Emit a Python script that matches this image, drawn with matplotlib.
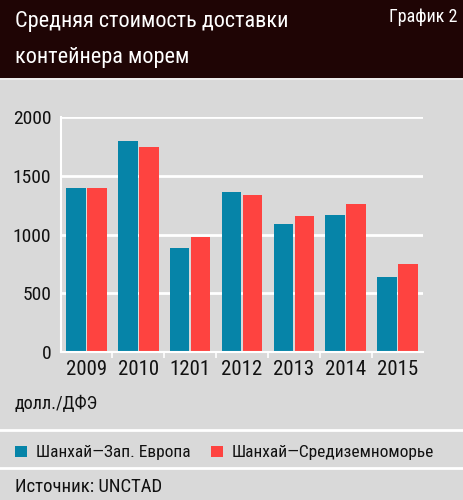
import numpy as np
import matplotlib.pyplot as plt
from matplotlib.patches import Rectangle

# Data
years = ["2009", "2010", "1201", "2012", "2013", "2014", "2015"]
west_europe = [1400, 1800, 885, 1360, 1090, 1165, 640]
mediterranean = [1400, 1745, 980, 1340, 1155, 1260, 745]
series_names = ["Шанхай—Зап. Европа", "Шанхай—Средиземноморье"]

BLUE = "#0684a8"
RED = "#fe4340"
BG = "#d9d9d9"
HEAD = "#1f0505"
INK = "#111111"

plt.rcParams["font.family"] = ["Roboto Condensed", "DejaVu Sans"]

fig = plt.figure(figsize=(4.64, 5.0), dpi=100)
fig.patch.set_facecolor(BG)

# Header band
fig.patches.append(Rectangle((0, 0.844), 1, 0.156, transform=fig.transFigure,
                             facecolor=HEAD, edgecolor="none"))
fig.add_artist(plt.Line2D([0, 1], [0.843, 0.843], color="#f0f0f0", lw=1.2))
fig.text(0.032, 0.946, "Средняя стоимость доставки", color="white",
         fontsize=16, va="baseline")
fig.text(0.032, 0.874, "контейнера морем", color="white",
         fontsize=16, va="baseline")
fig.text(0.987, 0.955, "График 2", color="white", fontsize=13,
         ha="right", va="baseline")

# Chart
ax = fig.add_axes([0.1315, 0.296, 0.780, 0.470])
ax.set_facecolor(BG)
x = np.arange(len(years))
w = 0.377
off = 0.203
ax.bar(x - off, west_europe, w, color=BLUE, zorder=3)
ax.bar(x + off, mediterranean, w, color=RED, zorder=3)

ax.set_xlim(-0.49, len(years) - 0.51)
ax.set_ylim(0, 2000)
ax.set_yticks([0, 500, 1000, 1500, 2000])
ax.yaxis.grid(True, color="white", lw=2, zorder=1)
ax.set_xticks(x)
ax.set_xticklabels(years, fontsize=15)
ax.set_xticks(np.arange(0.5, len(years) - 1), minor=True)
ax.tick_params(axis="x", which="major", length=0, pad=6, labelcolor=INK)
ax.tick_params(axis="x", which="minor", length=4, width=1.2, color="white",
               direction="out")
ax.tick_params(axis="y", length=0, labelsize=14, pad=7, labelcolor=INK)
for s in ["top", "right"]:
    ax.spines[s].set_visible(False)
for s in ["left", "bottom"]:
    ax.spines[s].set_color("white")
    ax.spines[s].set_linewidth(1.5)
    ax.spines[s].set_zorder(4)

fig.text(0.032, 0.181, "долл./ДФЭ", fontsize=13, va="baseline", color=INK)

# Separators
fig.add_artist(plt.Line2D([0, 1], [0.140, 0.140], color="white", lw=2))
fig.add_artist(plt.Line2D([0, 1], [0.064, 0.064], color="white", lw=2))

# Legend
fig.patches.append(Rectangle((0.032, 0.086), 0.026, 0.022, transform=fig.transFigure,
                             facecolor=BLUE, edgecolor="none"))
fig.text(0.077, 0.087, series_names[0], fontsize=12.5, va="baseline", color=INK)
fig.patches.append(Rectangle((0.455, 0.086), 0.026, 0.022, transform=fig.transFigure,
                             facecolor=RED, edgecolor="none"))
fig.text(0.500, 0.087, series_names[1], fontsize=12.5, va="baseline", color=INK)

fig.text(0.032, 0.015, "Источник: UNCTAD", fontsize=13.5, va="baseline", color=INK)

fig.savefig("out.png", dpi=100, facecolor=fig.get_facecolor())
